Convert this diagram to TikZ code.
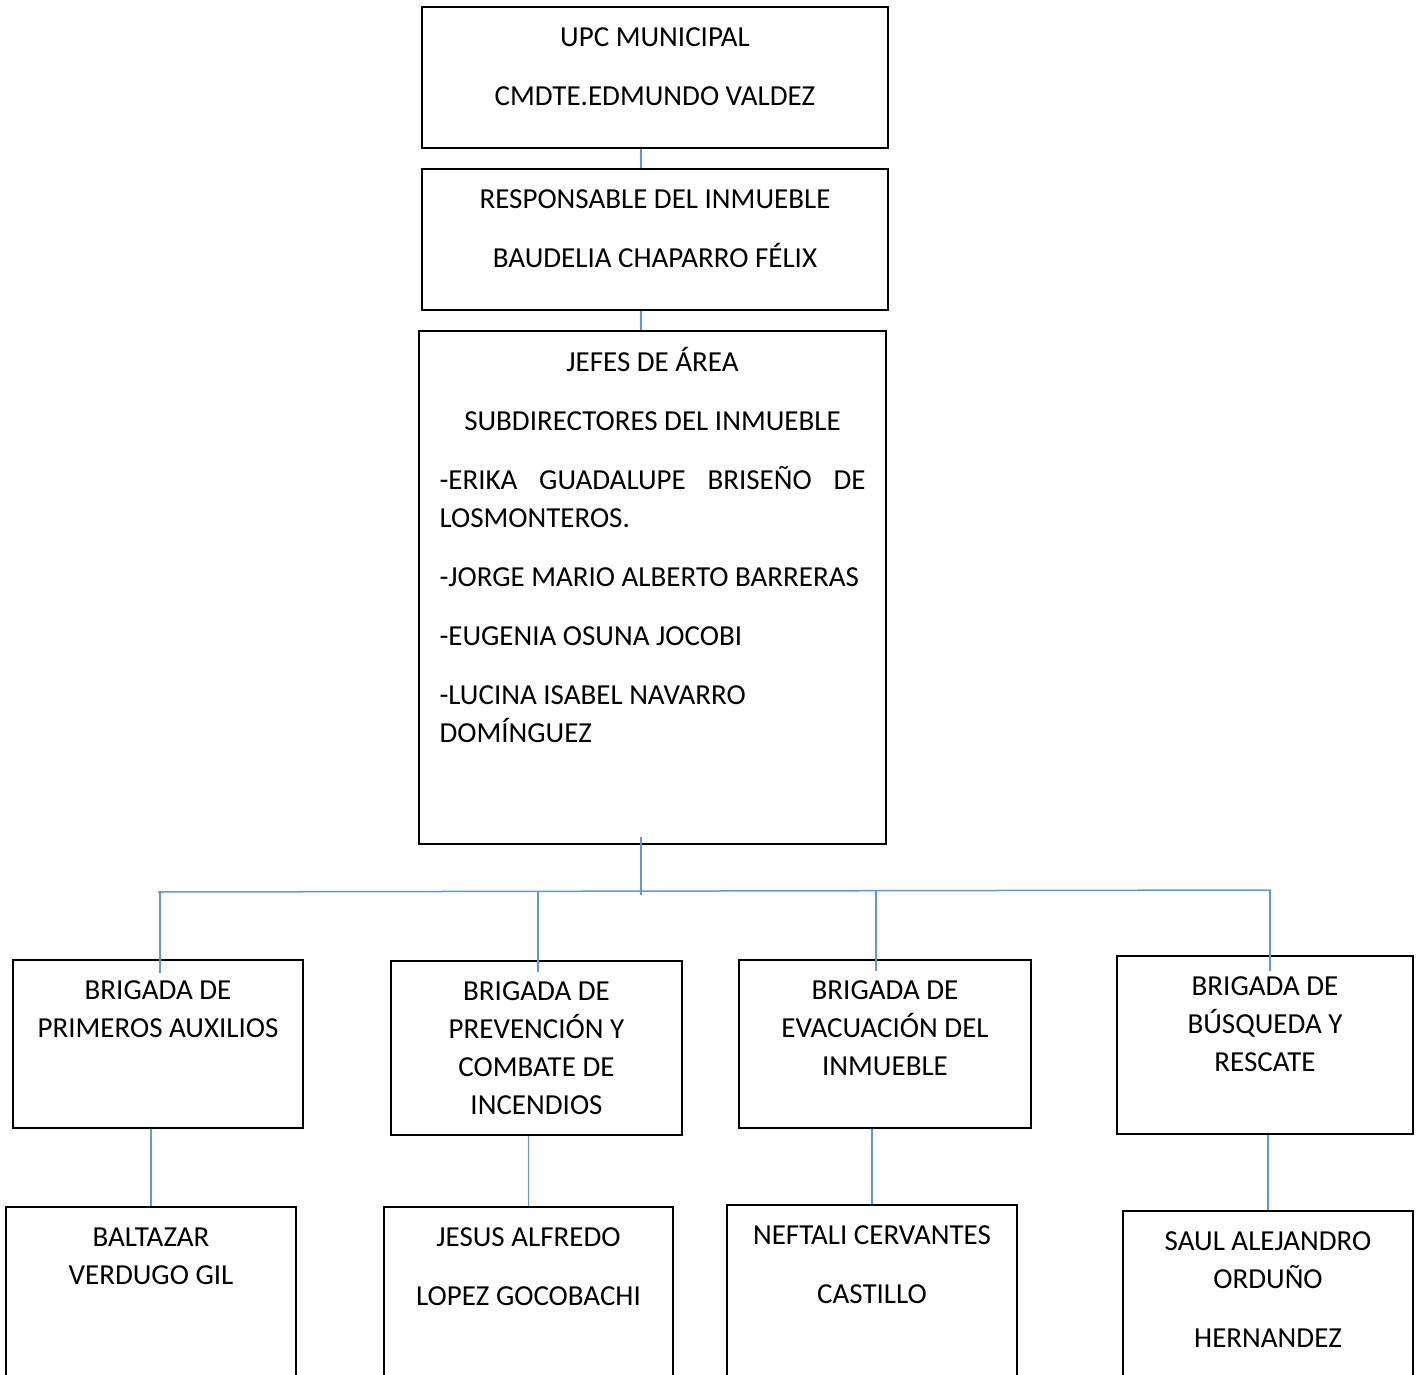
\documentclass[tikz,border=0pt]{standalone}
\usepackage{fontspec}
\setmainfont{Carlito}
\usetikzlibrary{positioning}
\definecolor{azulLinea}{HTML}{5B9BD5}

\tikzset{
  caja/.style={draw, line width=1pt, inner sep=0pt, anchor=north},
  txt/.style={inner sep=0pt, align=center, font=\fontsize{14.5}{19}\selectfont},
  enlace/.style={draw=azulLinea, line width=0.75pt},
}

\begin{document}
\begin{tikzpicture}[x=0.5pt, y=-0.5pt]

            \clip (0,0) rectangle (1422,1374);

            % Cajas de mando
            \node[caja, minimum width=233pt, minimum height=70.5pt] (upc) at (655,6) {};
            \node[txt, below=10.5pt of upc.north] (upc-t) {UPC MUNICIPAL\\[10.5pt]CMDTE.EDMUNDO VALDEZ};
            \node[caja, minimum width=233pt, minimum height=70.5pt] (resp) at (655,168) {};
            \node[txt, below=10.5pt of resp.north] (resp-t) {RESPONSABLE DEL INMUEBLE\\[10.5pt]BAUDELIA CHAPARRO FÉLIX};
            \node[caja, minimum width=233.5pt, minimum height=256.5pt] (jefes) at (652.5,330) {};
            \node[txt, align=left, below=8.5pt of jefes.north] (jefes-t) {%
              \makebox[213pt]{JEFES DE ÁREA}\\[10.5pt]
              \makebox[213pt]{SUBDIRECTORES DEL INMUEBLE}\\[10.5pt]
              \makebox[213pt][s]{-ERIKA GUADALUPE BRISEÑO DE}\\
              LOSMONTEROS.\\[10.5pt]
              -JORGE MARIO ALBERTO BARRERAS\\[10.5pt]
              -EUGENIA OSUNA JOCOBI\\[10.5pt]
              -LUCINA ISABEL NAVARRO\\
              DOMÍNGUEZ};

            % Brigadas
            \node[caja, minimum width=145pt, minimum height=84pt] (b1) at (158,959) {};
            \node[txt, below=10.5pt of b1.north] (b1-t) {BRIGADA DE\\PRIMEROS AUXILIOS};
            \node[caja, minimum width=145.5pt, minimum height=87pt] (b2) at (536.5,960) {};
            \node[txt, below=10.5pt of b2.north] (b2-t) {BRIGADA DE\\PREVENCIÓN Y\\COMBATE DE\\INCENDIOS};
            \node[caja, minimum width=146pt, minimum height=84pt] (b3) at (885,959) {};
            \node[txt, below=10.5pt of b3.north] (b3-t) {BRIGADA DE\\EVACUACIÓN DEL\\INMUEBLE};
            \node[caja, minimum width=148pt, minimum height=89pt] (b4) at (1265,955) {};
            \node[txt, below=10.5pt of b4.north] (b4-t) {BRIGADA DE\\BÚSQUEDA Y\\RESCATE};

            % Integrantes
            \node[caja, minimum width=145pt, minimum height=100pt] (n1) at (151,1206) {};
            \node[txt, below=10.5pt of n1.north] (n1-t) {BALTAZAR\\VERDUGO GIL};
            \node[caja, minimum width=144.5pt, minimum height=100pt] (n2) at (528.5,1206) {};
            \node[txt, below=10.5pt of n2.north] (n2-t) {JESUS ALFREDO\\[10.5pt]LOPEZ GOCOBACHI};
            \node[caja, minimum width=145pt, minimum height=100pt] (n3) at (872,1204) {};
            \node[txt, below=10.5pt of n3.north] (n3-t) {NEFTALI CERVANTES\\[10.5pt]CASTILLO};
            \node[caja, minimum width=145pt, minimum height=100pt] (n4) at (1268,1210) {};
            \node[txt, below=10.5pt of n4.north] (n4-t) {SAUL ALEJANDRO\\ORDUÑO\\[10.5pt]HERNANDEZ};

            % Lineas de enlace
            \coordinate (eje) at (641,0);
            \coordinate (bus) at (641,891);
            \coordinate (busIzq) at (158,892);
            \coordinate (busDer) at (1271,890);
            \draw[enlace] (upc.south -| eje) -- (resp.north -| eje);
            \draw[enlace] (resp.south -| eje) -- (jefes.north -| eje);
            \draw[enlace, shorten <=-4pt, shorten >=-2pt] (jefes.south -| eje) -- (bus);
            \draw[enlace] (busIzq) -- (busDer);
            \draw[enlace, shorten >=-7pt] ([xshift=1pt]b1.north |- bus) -- ([xshift=1pt]b1.north);
            \draw[enlace, shorten >=-6pt] ([xshift=0.75pt]b2.north |- bus) -- ([xshift=0.75pt]b2.north);
            \draw[enlace, shorten >=-6pt] ([xshift=-4.5pt]b3.north |- bus) -- ([xshift=-4.5pt]b3.north);
            \draw[enlace, shorten >=-8pt] ([xshift=2.5pt]b4.north |- bus) -- ([xshift=2.5pt]b4.north);
            \draw[enlace] (n1.north |- b1.south) -- (n1.north);
            \draw[enlace] (n2.north |- b2.south) -- (n2.north);
            \draw[enlace] (n3.north |- b3.south) -- (n3.north);
            \draw[enlace] (n4.north |- b4.south) -- (n4.north);

\end{tikzpicture}
\end{document}
